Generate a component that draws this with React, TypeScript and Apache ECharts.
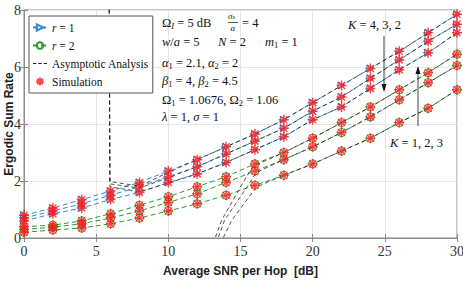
import React, { useEffect, useRef } from "react";
import * as echarts from "echarts";

// ---- data ----
const snr = [0, 2, 4, 6, 8, 10, 12, 14, 16, 18, 20, 22, 24, 26, 28, 30];
// r = 1, K = 4, 3, 2
const r1K4 = [0.8, 1.05, 1.35, 1.65, 1.95, 2.35, 2.75, 3.2, 3.65, 4.15, 4.75, 5.35, 5.95, 6.55, 7.2, 7.85];
const r1K3 = [0.7, 0.95, 1.2, 1.5, 1.8, 2.15, 2.5, 2.95, 3.4, 3.85, 4.45, 4.95, 5.6, 6.25, 6.9, 7.5];
const r1K2 = [0.6, 0.85, 1.05, 1.35, 1.6, 1.95, 2.25, 2.65, 3.1, 3.55, 4.15, 4.6, 5.25, 5.9, 6.5, 7.2];
// r = 2, K = 3, 2, 1
const r2K3 = [0.4, 0.45, 0.6, 0.85, 1.15, 1.45, 1.8, 2.15, 2.6, 3.0, 3.5, 4.05, 4.6, 5.2, 5.8, 6.45];
const r2K2 = [0.3, 0.38, 0.5, 0.7, 0.95, 1.25, 1.55, 1.95, 2.35, 2.75, 3.2, 3.7, 4.25, 4.85, 5.45, 6.05];
const r2K1 = [0.2, 0.28, 0.35, 0.5, 0.7, 0.95, 1.2, 1.5, 1.85, 2.2, 2.6, 3.05, 3.5, 4.05, 4.55, 5.2];

// asymptotic analysis curves ([snr, rate] pairs)
const asymR1K4: number[][] = [[5.9, 9], [5.95, 1.98], [8, 1.82], [10, 2.3], [12, 2.75], [14, 3.2], [16, 3.65], [18, 4.15], [20, 4.75], [22, 5.35], [24, 5.95], [26, 6.55], [28, 7.2], [30, 7.85]];
const asymR1K3: number[][] = [[5.9, 9], [5.95, 1.9], [8, 1.75], [10, 2.12], [12, 2.5], [14, 2.95], [16, 3.4], [18, 3.85], [20, 4.45], [22, 4.95], [24, 5.6], [26, 6.25], [28, 6.9], [30, 7.5]];
const asymR1K2: number[][] = [[5.9, 9], [5.95, 1.8], [8, 1.62], [10, 1.93], [12, 2.25], [14, 2.65], [16, 3.1], [18, 3.55], [20, 4.15], [22, 4.6], [24, 5.25], [26, 5.9], [28, 6.5], [30, 7.2]];
const asymR2K3: number[][] = [[13.1, -0.2], [13.7, 0.63], [15.0, 1.79], [15.7, 2.4], [16, 2.55], [18, 3.0], [20, 3.5], [22, 4.05], [24, 4.6], [26, 5.2], [28, 5.8], [30, 6.45]];
const asymR2K2: number[][] = [[13.3, -0.2], [13.9, 0.63], [15.45, 1.79], [16.1, 2.3], [18, 2.75], [20, 3.2], [22, 3.7], [24, 4.25], [26, 4.85], [28, 5.45], [30, 6.05]];
const asymR2K1: number[][] = [[13.6, -0.2], [14.4, 0.63], [16.1, 1.79], [18, 2.2], [20, 2.6], [22, 3.05], [24, 3.5], [26, 4.05], [28, 4.55], [30, 5.2]];

const xTicks = [0, 5, 10, 15, 20, 25, 30];
const yTicks = [0, 2, 4, 6, 8];

const BLUE = "#3189d2";
const GREEN = "#2f9a2f";
const RED = "#ff1a1a";
const SERIF = "'Liberation Serif', 'DejaVu Serif', serif";
const SANS = "'Liberation Sans', Arial, sans-serif";

const TRI = "path://M0,0L10,5L0,10Z";
const STAR = "path://M5,0L5,10M0,5L10,5M1.5,1.5L8.5,8.5M1.5,8.5L8.5,1.5";
const DASH_ICON = "path://M0,0H3V1H0ZM5,0H8V1H5ZM10,0H13V1H10Z";

const pairs = (ys: number[]) => snr.map((x, i) => [x, ys[i]]);

export default function App() {
  const ref = useRef<HTMLDivElement>(null);
  useEffect(() => {
    if (!ref.current) return;
    const chart = echarts.init(ref.current, null, { renderer: "svg" });

    const blueLine = (ys: number[]) => ({
      type: "line", name: "r = 1", data: pairs(ys), symbol: TRI, symbolSize: 7,
      lineStyle: { color: BLUE, width: 1, type: [5, 3] },
      itemStyle: { color: "rgba(255,255,255,0)", borderColor: BLUE, borderWidth: 1 },
      z: 2,
    });
    const greenLine = (ys: number[]) => ({
      type: "line", name: "r = 2", data: pairs(ys), symbol: "circle", symbolSize: 8,
      lineStyle: { color: GREEN, width: 1, type: [5, 3] },
      itemStyle: { color: "rgba(255,255,255,0)", borderColor: GREEN, borderWidth: 1 },
      z: 2,
    });
    const asym = (d: number[][]) => ({
      type: "line", name: "Asymptotic Analysis", data: d, symbol: "none", clip: true,
      lineStyle: { color: "#262626", width: 0.8, type: [4, 3] },
      itemStyle: { color: "#262626" },
      z: 3,
    });
    const simData = [r1K4, r1K3, r1K2, r2K3, r2K2, r2K1].flatMap((a) => pairs(a));

    const FS = 12.5;
    const sub = { fontSize: 8.5, fontFamily: SERIF, lineHeight: 8, verticalAlign: "bottom", fill: "#111" };
    const subI = { ...sub, fontStyle: "italic" };
    const n = { fontSize: FS, fontFamily: SERIF, lineHeight: 15, fill: "#111" };
    const it = { ...n, fontStyle: "italic" };
    const rich = { n, i: it, s: sub, si: subI };
    const txt = (x: number, y: number, text: string) => ({
      type: "text", x, y, z: 100,
      style: { text, rich, fontSize: FS, fontFamily: SERIF, fill: "#111", verticalAlign: "middle" },
    });

    const LFS = 11.5;
    chart.setOption({
      animation: false,
      grid: { left: 24, right: 6, top: 10, bottom: 46, outerBoundsMode: "none", containLabel: false, show: true, borderColor: "#8a8a8a", borderWidth: 1, backgroundColor: "transparent" },
      legend: {
        orient: "vertical", left: 29, top: 16,
        padding: [4, 4, 4, 3], itemGap: 3, itemWidth: 14, itemHeight: 8,
        backgroundColor: "#fff", borderColor: "#555", borderWidth: 1, borderRadius: 0,
        data: [
          { name: "r = 1" },
          { name: "r = 2" },
          { name: "Asymptotic Analysis", icon: DASH_ICON },
          { name: "Simulation" },
        ],
        formatter: (name: string) => (name.startsWith("r =") ? "{i|r}{n|" + name.slice(1) + "}" : "{n|" + name + "}"),
        textStyle: { fontFamily: SERIF, fontSize: LFS, color: "#111", lineHeight: 15, rich: { i: { fontFamily: SERIF, fontSize: LFS, fontStyle: "italic", lineHeight: 15 }, n: { fontFamily: SERIF, fontSize: LFS, lineHeight: 15 } } },
      },
      xAxis: [
        {
          type: "value", min: 0, max: 30, interval: 5,
          name: "Average SNR per Hop  [dB]", nameLocation: "middle", nameGap: 27,
          nameTextStyle: { fontFamily: SANS, fontWeight: "bold", fontSize: 12, color: "#222" },
          axisLine: { show: true, lineStyle: { color: "#8a8a8a" } },
          axisTick: { inside: true, length: 4, lineStyle: { color: "#8a8a8a" } },
          axisLabel: { fontFamily: SERIF, fontSize: 14, color: "#333", margin: 6, formatter: (v: number) => (xTicks.includes(v) ? String(v) : "") },
          splitLine: { show: true, lineStyle: { color: "#e6e6e6", width: 1 } },
        },
        {
          type: "value", min: 0, max: 30, interval: 5, position: "top",
          axisLine: { show: true, lineStyle: { color: "#8a8a8a" } },
          axisTick: { inside: true, length: 4, lineStyle: { color: "#8a8a8a" } },
          axisLabel: { show: false }, splitLine: { show: false },
        },
      ],
      yAxis: [
        {
          type: "value", min: 0, max: 8, interval: 2,
          axisLine: { show: true, lineStyle: { color: "#8a8a8a" } },
          axisTick: { inside: true, length: 4, lineStyle: { color: "#8a8a8a" } },
          axisLabel: { fontFamily: SERIF, fontSize: 14, color: "#333", margin: 3, formatter: (v: number) => (yTicks.includes(v) ? String(v) : "") },
          splitLine: { show: true, lineStyle: { color: "#e6e6e6", width: 1 } },
        },
        {
          type: "value", min: 0, max: 8, interval: 2, position: "right",
          axisLine: { show: true, lineStyle: { color: "#8a8a8a" } },
          axisTick: { inside: true, length: 4, lineStyle: { color: "#8a8a8a" } },
          axisLabel: { show: false }, splitLine: { show: false },
        },
      ],
      series: [
        blueLine(r1K4), blueLine(r1K3), blueLine(r1K2),
        greenLine(r2K3), greenLine(r2K2), greenLine(r2K1),
        asym(asymR1K4), asym(asymR1K3), asym(asymR1K2),
        asym(asymR2K3), asym(asymR2K2), asym(asymR2K1),
        {
          type: "scatter", name: "Simulation", data: simData, symbol: STAR, symbolSize: 10,
          symbolKeepAspect: true,
          itemStyle: { color: "rgba(255,0,0,0)", borderColor: RED, borderWidth: 1.5 },
          z: 4,
        },
      ],
      graphic: [
        { type: "text", x: 9, y: 124, rotation: Math.PI / 2, z: 100, style: { text: "Ergodic Sum Rate", fontFamily: SANS, fontWeight: "bold", fontSize: 12, fill: "#222", align: "center", verticalAlign: "middle" } },
        txt(162, 23, "{n|Ω}{si|I}{n| = 5 dB}"),
        { type: "text", x: 228, y: 11, z: 100, style: { text: "{i|σ}{s|s}", rich: { i: { fontSize: 9, fontFamily: SERIF, fontStyle: "italic", fill: "#111" }, s: { fontSize: 6.5, fontFamily: SERIF, fontStyle: "italic", fill: "#111", verticalAlign: "bottom" } }, fontSize: 9, fontFamily: SERIF } },
        { type: "line", z: 100, shape: { x1: 228, y1: 22.5, x2: 238, y2: 22.5 }, style: { stroke: "#111", lineWidth: 0.7 } },
        { type: "text", x: 230.5, y: 23.5, z: 100, style: { text: "a", fontSize: 9, fontFamily: SERIF, fontStyle: "italic", fill: "#111" } },
        txt(242, 23, "{n|= 4}"),
        txt(162, 42, "{i|w}{n|/}{i|a}{n| = 5}"),
        txt(218, 42, "{i|N}{n| = 2}"),
        txt(265, 42, "{i|m}{s|1}{n| = 1}"),
        txt(162, 63, "{i|α}{s|1}{n| = 2.1, }{i|α}{s|2}{n| = 2}"),
        txt(162, 81, "{i|β}{s|1}{n| = 4, }{i|β}{s|2}{n| = 4.5}"),
        txt(162, 100, "{n|Ω}{s|1}{n| = 1.0676, Ω}{s|2}{n| = 1.06}"),
        txt(162, 117, "{i|λ}{n| = 1, }{i|σ}{n| = 1}"),
        txt(348, 25, "{i|K}{n| = 4, 3, 2}"),
        { type: "line", z: 100, shape: { x1: 384, y1: 36, x2: 384, y2: 90 }, style: { stroke: "#111", lineWidth: 0.8 } },
        { type: "polygon", z: 100, shape: { points: [[381.5, 84], [386.5, 84], [384, 92]] }, style: { fill: "#111" } },
        txt(390, 143, "{i|K}{n| = 1, 2, 3}"),
        { type: "line", z: 100, shape: { x1: 418, y1: 126, x2: 418, y2: 68 }, style: { stroke: "#111", lineWidth: 0.8 } },
        { type: "polygon", z: 100, shape: { points: [[415.5, 74], [420.5, 74], [418, 66]] }, style: { fill: "#111" } },
      ],
    });
    return () => chart.dispose();
  }, []);
  return <div ref={ref} style={{ width: 463, height: 284, position: "absolute", left: 0, top: 0, background: "#fff" }} />;
}
